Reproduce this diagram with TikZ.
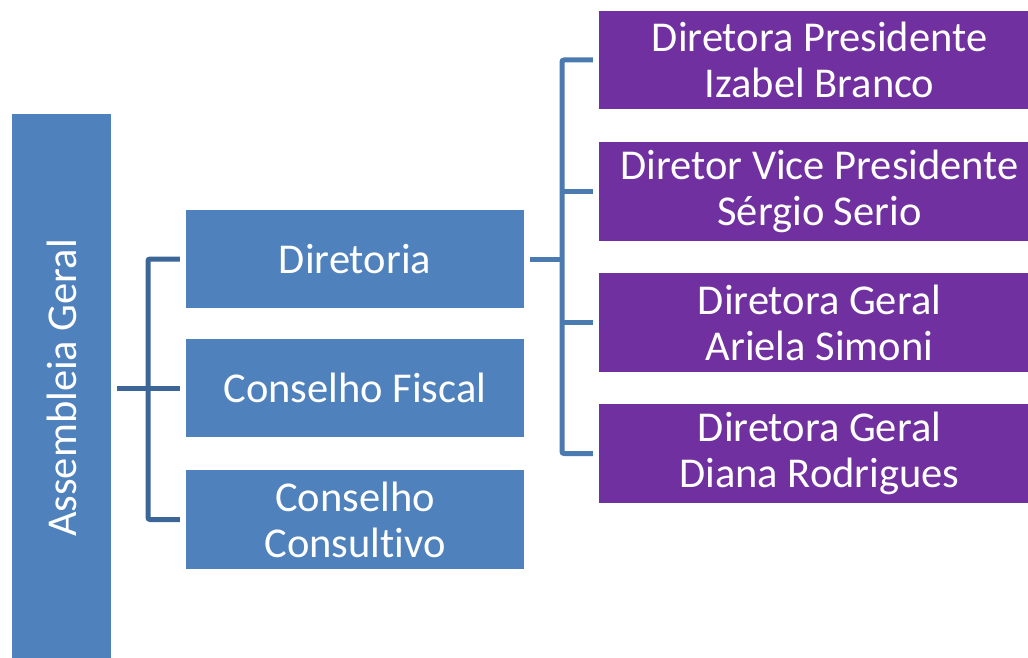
\documentclass[tikz,border=0pt]{standalone}
\usepackage{fontspec}
\setmainfont{Carlito}[Ligatures={NoCommon}]
\begin{document}
\begin{tikzpicture}[x=1pt,y=-1pt,
  blue box/.style={fill={rgb,255:red,79;green,129;blue,189}, draw=none, inner sep=0pt, text=white, align=center, font=\fontsize{42.5}{46}\selectfont},
  purple box/.style={fill={rgb,255:red,112;green,48;blue,160}, draw=none, inner sep=0pt, text=white, align=center, font=\fontsize{42.5}{46}\selectfont},
  ptext/.style={text=white, align=center, inner sep=0pt, font=\fontsize{42.5}{46}\selectfont},
  lconn/.style={draw={rgb,255:red,61;green,102;blue,152}, line width=5pt, rounded corners=2pt},
  rconn/.style={draw={rgb,255:red,74;green,122;blue,176}, line width=5pt, rounded corners=2pt}]
\useasboundingbox (0,0) rectangle (1028,658);
% Assembleia
\node[blue box, minimum width=99pt, minimum height=544pt] (ag) at (61.5,386) {};
\node[text=white, rotate=90, font=\fontsize{42.5}{46}\selectfont] (agt) at (61.5,388) {Assembleia Geral};
% Middle
\node[blue box, minimum width=338pt, minimum height=98pt] (dir) at (355,259) {Diretoria};
\node[blue box, minimum width=338pt, minimum height=98pt] (cf) at (355,388) {Conselho Fiscal};
\node[blue box, minimum width=338pt, minimum height=99pt] (cc) at (355,519.5) {Conselho\\Consultivo};
% Right
\node[purple box, minimum width=429pt, minimum height=98pt] (p1) at (813.5,60) {};
\node[purple box, minimum width=429pt, minimum height=99pt] (p2) at (813.5,191.5) {};
\node[purple box, minimum width=429pt, minimum height=99pt] (p3) at (813.5,322.5) {};
\node[purple box, minimum width=429pt, minimum height=99pt] (p4) at (813.5,453.5) {};
\node[ptext] (t1) at ([xshift=6pt]p1.center) {Diretora Presidente\\Izabel Branco};
\node[ptext] (t2) at ([xshift=6pt]p2.center) {Diretor Vice Presidente\\Sérgio Serio};
\node[ptext] (t3) at ([xshift=6pt]p3.center) {Diretora Geral\\Ariela Simoni};
\node[ptext] (t4) at ([xshift=6pt]p4.center) {Diretora Geral\\Diana Rodrigues};
% Left connectors
\coordinate (lb) at (148,388);
\draw[lconn] ([xshift=6pt]ag.east |- cf.west) -- ([xshift=-6pt]cf.west);
\draw[lconn] ([xshift=-6pt]dir.west) -| (lb) |- ([xshift=-6pt]cc.west);
% Right connectors
\coordinate (rb) at (562,259);
\draw[rconn] ([xshift=6pt]dir.east) -- (rb);
\draw[rconn] ([xshift=-6pt]p1.west) -| (rb) |- ([xshift=-6pt]p4.west);
\draw[rconn] (rb |- p2.west) -- ([xshift=-6pt]p2.west);
\draw[rconn] (rb |- p3.west) -- ([xshift=-6pt]p3.west);
\end{tikzpicture}
\end{document}
